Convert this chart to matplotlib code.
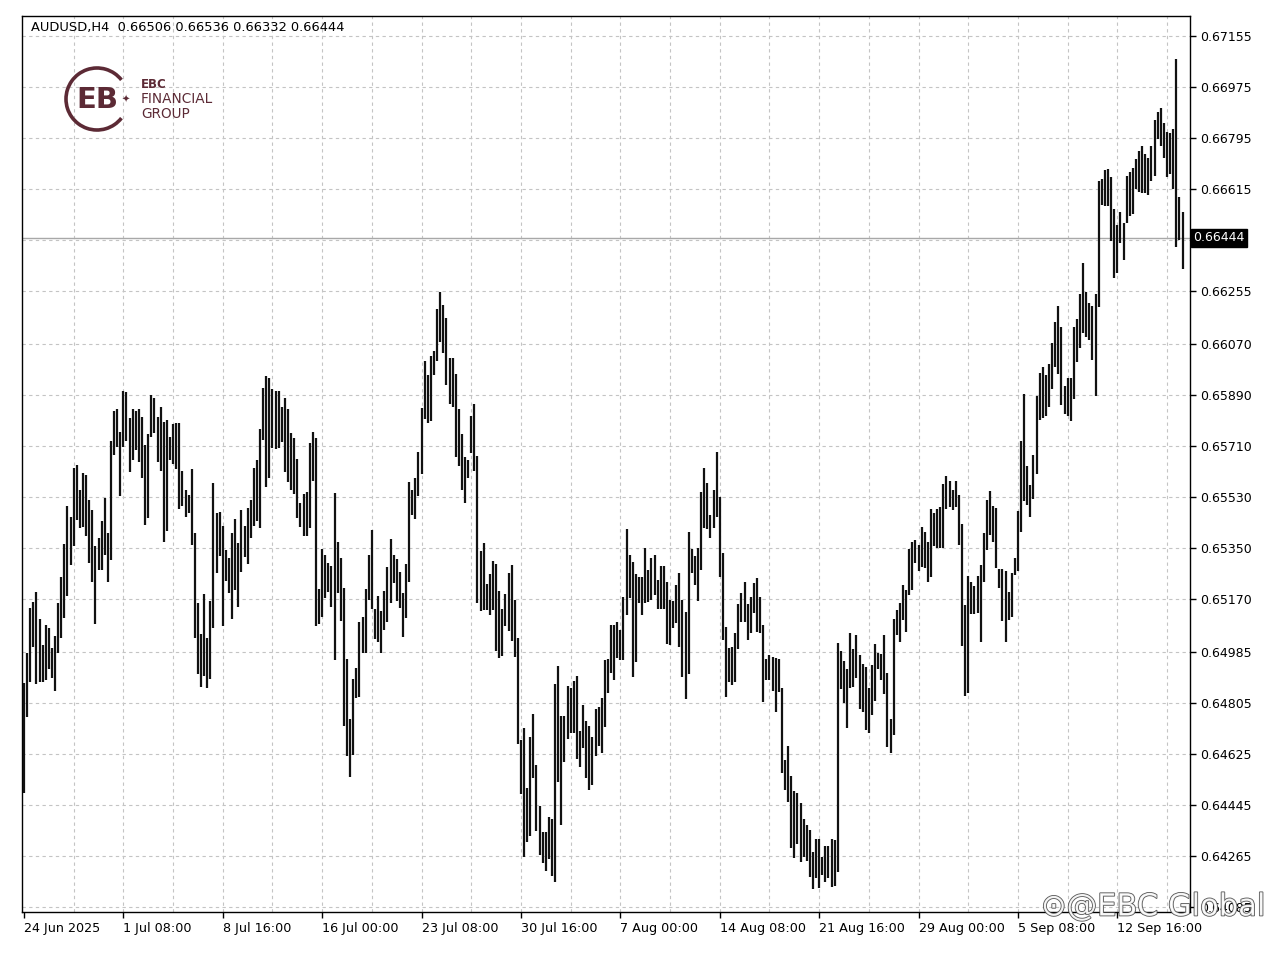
import numpy as np
import matplotlib
matplotlib.use("Agg")
import matplotlib.pyplot as plt
import matplotlib.patheffects as pe
from matplotlib.patches import Arc
from matplotlib.transforms import blended_transform_factory

# AUDUSD H4 bars, high / low in points (1e-5)
highs = [
    64874, 64980, 65138, 65162, 65195, 65101, 65009, 65080, 65068, 64997,
    65041, 65156, 65248, 65364, 65500, 65458, 65632, 65643, 65555, 65616,
    65608, 65518, 65485, 65359, 65385, 65446, 65528, 65403, 65729, 65835,
    65840, 65761, 65905, 65900, 65808, 65840, 65835, 65840, 65811, 65714,
    65753, 65890, 65878, 65811, 65846, 65796, 65802, 65740, 65787, 65790,
    65790, 65623, 65555, 65538, 65628, 65403, 65156, 65048, 65188, 65033,
    65164, 65581, 65473, 65479, 65429, 65344, 65314, 65402, 65452, 65367,
    65485, 65428, 65490, 65520, 65631, 65661, 65769, 65913, 65955, 65949,
    65911, 65905, 65905, 65846, 65878, 65839, 65755, 65737, 65664, 65508,
    65541, 65549, 65720, 65758, 65737, 65205, 65347, 65326, 65299, 65287,
    65543, 65370, 65314, 65209, 64958, 64747, 64888, 64927, 65089, 65106,
    65205, 65326, 65414, 65135, 65182, 65130, 65200, 65283, 65381, 65326,
    65311, 65267, 65193, 65294, 65582, 65556, 65596, 65690, 65845, 66008,
    65961, 66028, 66045, 66194, 66251, 66207, 66160, 66021, 66021, 65965,
    65839, 65752, 65671, 65661, 65816, 65859, 65673, 65340, 65367, 65225,
    65259, 65303, 65293, 65198, 65137, 65187, 65263, 65290, 65168, 65034,
    64675, 64717, 64504, 64686, 64767, 64585, 64441, 64351, 64351, 64403,
    64396, 64872, 64936, 64760, 64760, 64864, 64858, 64882, 64899, 64707,
    64798, 64740, 64724, 64686, 64783, 64791, 64823, 64955, 64958, 65079,
    65079, 65091, 65061, 65177, 65416, 65326, 65302, 65259, 65249, 65249,
    65352, 65273, 65314, 65326, 65238, 65287, 65287, 65232, 65169, 65165,
    65220, 65261, 65169, 65126, 65408, 65346, 65322, 65349, 65549, 65631,
    65581, 65467, 65555, 65690, 65531, 65334, 65073, 64997, 65003, 65052,
    65152, 65191, 65232, 65152, 65179, 65226, 65244, 65177, 65079, 64958,
    64973, 64967, 64962, 64958, 64856, 64603, 64653, 64547, 64495, 64488,
    64451, 64395, 64375, 64357, 64281, 64324, 64324, 64263, 64301, 64301,
    64324, 64320, 65015, 64986, 64954, 64924, 65050, 64994, 65045, 64974,
    64942, 64933, 64857, 64939, 65013, 64980, 64978, 65045, 64909, 64747,
    65100, 65133, 65156, 65221, 65203, 65346, 65370, 65379, 65362, 65424,
    65406, 65373, 65487, 65473, 65487, 65494, 65577, 65603, 65588, 65556,
    65588, 65538, 65435, 65150, 65252, 65232, 65217, 65252, 65291, 65405,
    65520, 65550, 65499, 65491, 65277, 65277, 65271, 65196, 65264, 65314,
    65481, 65726, 65893, 65638, 65572, 65678, 65885, 65967, 65988, 65961,
    65998, 66073, 66147, 66202, 66130, 65923, 65950, 65948, 66130, 66157,
    66247, 66356, 66252, 66215, 66202, 66247, 66644, 66651, 66682, 66687,
    66657, 66546, 66487, 66535, 66494, 66660, 66674, 66691, 66721, 66750,
    66766, 66739, 66725, 66766, 66859, 66886, 66902, 66848, 66818, 66814,
    66827, 67072, 66589, 66536,
]
lows = [
    64486, 64754, 64880, 65003, 64872, 64880, 64880, 64886, 64923, 64892,
    64848, 64980, 65033, 65103, 65182, 65291, 65356, 65450, 65420, 65426,
    65393, 65297, 65232, 65083, 65273, 65273, 65326, 65230, 65309, 65679,
    65708, 65534, 65708, 65728, 65620, 65659, 65696, 65652, 65596, 65432,
    65456, 65741, 65757, 65652, 65623, 65371, 65412, 65661, 65647, 65628,
    65487, 65497, 65461, 65473, 65362, 65033, 64907, 64862, 64898, 64856,
    64889, 65068, 65264, 65323, 65076, 65236, 65193, 65099, 65203, 65142,
    65267, 65320, 65294, 65385, 65428, 65444, 65420, 65731, 65565, 65596,
    65702, 65700, 65702, 65725, 65620, 65584, 65555, 65541, 65455, 65426,
    65394, 65394, 65420, 65587, 65076, 65083, 65109, 65173, 65197, 65142,
    64956, 65193, 65095, 64723, 64618, 64543, 64621, 64821, 64824, 64980,
    64980, 65167, 65135, 65029, 65021, 64980, 65062, 65089, 65156, 65226,
    65165, 65138, 65038, 65103, 65232, 65468, 65452, 65535, 65610, 65806,
    65792, 65799, 65961, 66008, 66078, 66037, 65924, 65859, 65849, 65671,
    65641, 65556, 65509, 65596, 65684, 65623, 65158, 65128, 65131, 65131,
    65115, 65131, 64989, 64962, 64969, 65077, 65057, 65023, 64966, 64659,
    64483, 64261, 64315, 64335, 64540, 64355, 64268, 64241, 64214, 64254,
    64194, 64174, 64527, 64376, 64598, 64679, 64697, 64700, 64608, 64578,
    64646, 64540, 64497, 64517, 64619, 64652, 64629, 64720, 64838, 64909,
    64885, 64962, 64956, 64956, 65114, 65173, 64895, 64950, 65155, 65114,
    65155, 65161, 65167, 65185, 65134, 65134, 65134, 65014, 65009, 65067,
    65087, 65000, 64895, 64818, 64905, 65261, 65220, 65164, 65273, 65420,
    65416, 65387, 65420, 65458, 65249, 65026, 64824, 64879, 64868, 64879,
    64993, 65091, 65091, 65026, 65050, 65120, 65056, 65052, 64809, 64885,
    64885, 64848, 64774, 64844, 64556, 64498, 64456, 64292, 64257, 64307,
    64245, 64263, 64246, 64193, 64148, 64187, 64152, 64199, 64175, 64187,
    64155, 64158, 64210, 64853, 64804, 64716, 64857, 64862, 64892, 64783,
    64774, 64710, 64698, 64763, 64810, 64924, 64886, 64837, 64651, 64628,
    64692, 65045, 65021, 65097, 65053, 65185, 65201, 65297, 65268, 65285,
    65279, 65230, 65248, 65358, 65350, 65350, 65350, 65487, 65494, 65483,
    65494, 65362, 65006, 64830, 64841, 65119, 65119, 65123, 65021, 65229,
    65342, 65395, 65370, 65279, 65209, 65094, 65019, 65097, 65107, 65257,
    65271, 65406, 65515, 65502, 65461, 65522, 65613, 65801, 65808, 65814,
    65848, 65912, 65988, 65964, 65855, 65821, 65814, 65798, 65876, 66005,
    66056, 66107, 66093, 66084, 66012, 65885, 66198, 66559, 66555, 66555,
    66433, 66301, 66320, 66426, 66365, 66497, 66519, 66528, 66617, 66606,
    66603, 66600, 66596, 66644, 66660, 66793, 66766, 66725, 66657, 66668,
    66614, 66410, 66437, 66332,
]

date_labels = ["24 Jun 2025", "1 Jul 08:00", "8 Jul 16:00", "16 Jul 00:00",
               "23 Jul 08:00", "30 Jul 16:00", "7 Aug 00:00", "14 Aug 08:00",
               "21 Aug 16:00", "29 Aug 00:00", "5 Sep 08:00", "12 Sep 16:00"]
bars_per_label = 32

price_ticks = [0.67155, 0.66975, 0.66795, 0.66615, 0.66435, 0.66255, 0.66070,
               0.65890, 0.65710, 0.65530, 0.65350, 0.65170, 0.64985, 0.64805,
               0.64625, 0.64445, 0.64265, 0.64085]
last_ohlc = [0.66506, 0.66536, 0.66332, 0.66444]

highs = np.array(highs) / 1e5
lows = np.array(lows) / 1e5
x = np.arange(len(highs))

W, H = 1280, 955
fig = plt.figure(figsize=(W / 100, H / 100), dpi=100)
fig.patch.set_facecolor("white")

L, R, T, B = 22, 1190, 16, 912
ax = fig.add_axes([L / W, 1 - B / H, (R - L) / W, (B - T) / H])
ax.set_facecolor("white")

grid_kw = dict(color="#c4c4c4", lw=0.8, ls=(0, (3, 3)), zorder=0)
ax.set_xlim(-0.64, 375.4)
ax.set_ylim(0.64068, 0.67225)

# grid
for gx in range(16, len(highs) + 2, 16):
    ax.axvline(gx, **grid_kw)
for gy in price_ticks:
    ax.axhline(gy, **grid_kw)

# current price line
ax.axhline(last_ohlc[3], color="#a8a8a8", lw=1.0, zorder=1)

# bars
ax.vlines(x, lows, highs, color="#111111", lw=1.6, zorder=3)

# axes styling
for s in ax.spines.values():
    s.set_color("black")
    s.set_linewidth(1.0)

ax.yaxis.tick_right()
ax.set_yticks(price_ticks)
ax.set_yticklabels(["" if abs(p - 0.66435) < 1e-6 else f"{p:.5f}" for p in price_ticks])
ax.tick_params(axis="y", length=4, width=1, pad=3, labelsize=9, colors="black")

xt = list(range(0, bars_per_label * len(date_labels), bars_per_label))
ax.set_xticks(xt)
ax.set_xticklabels(date_labels, ha="left")
ax.tick_params(axis="x", length=4, width=1, pad=3, labelsize=9.2, colors="black")

# price tag on the right axis
tr = blended_transform_factory(ax.transAxes, ax.transData)
ax.text(1.003, last_ohlc[3], f"{last_ohlc[3]:.5f}", transform=tr, ha="left",
        va="center", fontsize=9, color="white", clip_on=False, zorder=10,
        bbox=dict(boxstyle="square,pad=0.2", fc="black", ec="black"))

# header
fig.text(31 / W, 1 - 28 / H,
         "AUDUSD,H4  " + " ".join(f"{v:.5f}" for v in last_ohlc),
         ha="left", va="center", fontsize=9.4, color="black")

# logo
maroon = "#5c2a35"
lax = fig.add_axes([60 / W, 1 - 136 / H, 170 / W, 74 / H])
lax.set_xlim(60, 230)
lax.set_ylim(136, 62)
lax.axis("off")
lax.add_patch(Arc((97, 99), 62, 62, theta1=38, theta2=322, color=maroon, lw=2.6))
lax.text(97, 100, "EB", ha="center", va="center", fontsize=21, color=maroon,
         fontweight="bold")
lax.text(126, 100, "\u2726", ha="center", va="center", fontsize=7, color=maroon)
lax.text(141, 85, "EBC", ha="left", va="center", fontsize=8.5, color=maroon,
         fontweight="bold")
lax.text(141, 99, "FINANCIAL", ha="left", va="center", fontsize=9.8, color=maroon)
lax.text(141, 114, "GROUP", ha="left", va="center", fontsize=9.8, color=maroon)

# watermark
fig.text(1265 / W, 1 - 907 / H, "\u2299@EBC Global", ha="right", va="center",
         fontsize=22, color="white", alpha=0.9,
         path_effects=[pe.withStroke(linewidth=1.2, foreground="#444444")])

fig.savefig("out.png", dpi=100)
